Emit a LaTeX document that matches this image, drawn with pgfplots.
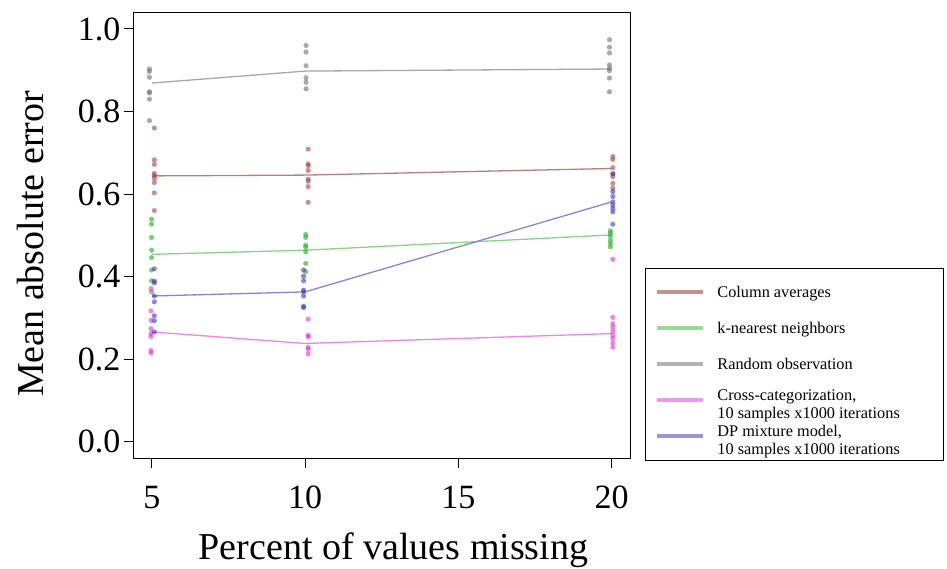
\documentclass[border=0pt]{standalone}
\usepackage{fontspec}
\setmainfont{Liberation Serif}
\usepackage{pgfplots}
\pgfplotsset{compat=1.18}

\definecolor{lnRed}{HTML}{B87F7A}
\definecolor{lnGreen}{HTML}{86D486}
\definecolor{lnGray}{HTML}{A8A8A8}
\definecolor{lnPink}{HTML}{EB85EB}
\definecolor{lnBlue}{HTML}{8585D8}
\definecolor{ptRed}{HTML}{9E4A4A}
\definecolor{ptGreen}{HTML}{28A828}
\definecolor{ptGray}{HTML}{707070}
\definecolor{ptPink}{HTML}{D838D0}
\definecolor{ptBlue}{HTML}{3A3AB8}

\pgfplotsset{
  dots/.style={only marks, mark=*, mark size=2.6pt, forget plot,
    mark options={draw opacity=0, fill opacity=0.6, fill=#1}},
  trend/.style={color=#1, line width=1.3pt, mark=none},
}
% fixed-width legend text so the box reaches as far right as the original
\newcommand{\lentry}[1]{\parbox[c]{214pt}{\raggedright #1}}

\begin{document}
\begin{tikzpicture}
\begin{axis}[
    at={(133.5pt,110.8pt)}, anchor=south west,
    width=496.5pt, height=445.7pt, scale only axis,
    xmin=4.4, xmax=20.6, ymin=-0.04, ymax=1.04,
    xtick={5,10,15,20},
    ytick={0,0.2,0.4,0.6,0.8,1.0},
    tick pos=left, tick align=outside,
    major tick length=9.5pt,
    axis line style={line width=1pt},
    every tick/.style={black, line width=1pt},
    tick label style={font=\fontsize{34}{40}\selectfont},
    xticklabel style={yshift=-15pt},
    /pgf/number format/assume math mode=true,
    yticklabel style={/pgf/number format/.cd, fixed, fixed zerofill, precision=1},
    every axis x label/.style={at={(axis description cs:0.5237,-0.2262)}, anchor=base},
    every axis y label/.style={at={(axis description cs:-0.1803,0.4806)}, rotate=90, anchor=base},
    label style={font=\fontsize{38}{44}\selectfont},
    xlabel={Percent of values missing},
    ylabel={Mean absolute error},
    legend style={at={(1.0302,0.4267)}, anchor=north west,
      draw=black, line width=0.8pt,
      inner xsep=10pt, inner ysep=6pt,
      column sep=10pt, row sep=0pt,
      font=\fontsize{16.3}{18}\selectfont,
      nodes={minimum height=36pt, inner sep=2pt},
      cells={align=left}},
    legend cell align=left,
    legend image code/.code={\draw[#1, line width=4pt, opacity=0.85] (0pt,0pt) -- (46pt,0pt);},
]

% scattered runs, Column averages
\addplot[dots=ptRed] coordinates {
 (5.08,0.760) (5.08,0.683) (5.08,0.672) (5.08,0.650) (5.08,0.645)
 (5.08,0.638) (5.08,0.628) (5.08,0.603) (5.08,0.560)
 (10.1,0.709) (10.1,0.673) (10.1,0.669) (10.1,0.657) (10.1,0.636)
 (10.1,0.631) (10.1,0.618) (10.1,0.580)
 (20.04,0.691) (20.04,0.684) (20.04,0.664) (20.04,0.649) (20.04,0.642)
 (20.04,0.626) (20.04,0.614)
};
% k-nearest neighbors
\addplot[dots=ptGreen] coordinates {
 (4.99,0.539) (4.99,0.527) (4.99,0.495) (4.99,0.464) (4.99,0.446)
 (4.99,0.416) (4.99,0.390) (4.99,0.363)
 (10.02,0.502) (10.02,0.495) (10.02,0.476) (10.02,0.471) (10.02,0.460)
 (10.02,0.432) (10.02,0.412)
 (19.96,0.511) (19.96,0.505) (19.96,0.498) (19.96,0.488) (19.96,0.480)
 (19.96,0.472)
};
% Random observation
\addplot[dots=ptGray] coordinates {
 (4.92,0.903) (4.92,0.897) (4.92,0.883) (4.92,0.848) (4.92,0.845)
 (4.92,0.830) (4.92,0.778)
 (10.03,0.960) (10.03,0.944) (10.03,0.911) (10.03,0.882) (10.03,0.871)
 (10.03,0.855)
 (19.93,0.974) (19.93,0.956) (19.93,0.942) (19.93,0.913) (19.93,0.905)
 (19.93,0.899) (19.93,0.881) (19.93,0.848)
};
% Cross-categorization
\addplot[dots=ptPink] coordinates {
 (4.97,0.371) (4.97,0.317) (4.97,0.294) (4.97,0.274) (4.97,0.262)
 (4.97,0.255) (4.97,0.221) (4.97,0.215)
 (10.1,0.297) (10.1,0.258) (10.1,0.254) (10.1,0.229) (10.1,0.224)
 (10.1,0.213)
 (20.04,0.442) (20.04,0.301) (20.04,0.286) (20.04,0.278) (20.04,0.268)
 (20.04,0.258) (20.04,0.250) (20.04,0.239) (20.04,0.229)
};
% DP mixture model
\addplot[dots=ptBlue] coordinates {
 (5.08,0.419) (5.08,0.389) (5.08,0.385) (5.08,0.353) (5.08,0.339)
 (5.08,0.305) (5.08,0.293) (5.08,0.266)
 (9.95,0.416) (9.95,0.401) (9.95,0.390) (9.95,0.367) (9.95,0.363)
 (9.95,0.353) (9.95,0.328) (9.95,0.325)
 (20.04,0.649) (20.04,0.606) (20.04,0.594) (20.04,0.581) (20.04,0.573)
 (20.04,0.565) (20.04,0.557) (20.04,0.527)
};

% mean lines
\addplot[trend=lnRed] coordinates {(5,0.644) (10,0.646) (20,0.662)};
\addlegendentry{\lentry{Column averages}}
\addplot[trend=lnGreen] coordinates {(5,0.454) (10,0.464) (20,0.501)};
\addlegendentry{\lentry{k-nearest neighbors}}
\addplot[trend=lnGray] coordinates {(5,0.869) (10,0.898) (20,0.903)};
\addlegendentry{\lentry{Random observation}}
\addplot[trend=lnPink] coordinates {(5,0.266) (10,0.238) (20,0.262)};
\addlegendentry{\lentry{Cross-categorization,\\10 samples x1000 iterations}}
\addplot[trend=lnBlue] coordinates {(5,0.353) (10,0.363) (20,0.581)};
\addlegendentry{\lentry{DP mixture model,\\10 samples x1000 iterations}}
\end{axis}
\pgfresetboundingbox
\path (0,0) rectangle (947pt,569pt);
\end{tikzpicture}
\end{document}
